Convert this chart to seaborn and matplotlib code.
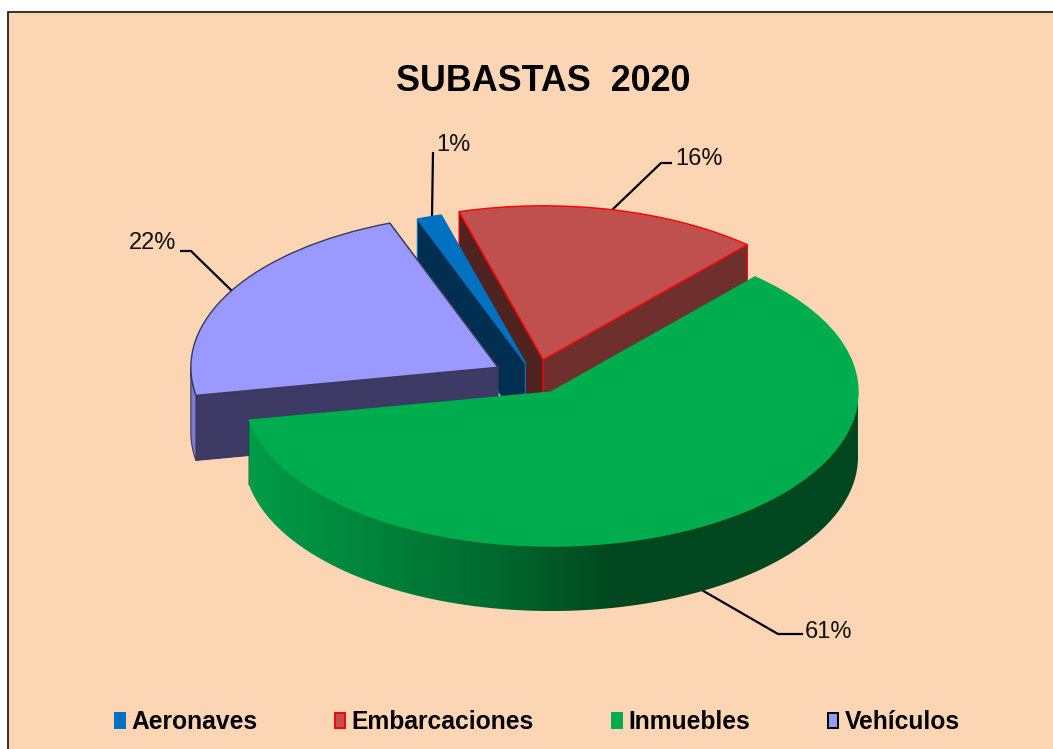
import numpy as np
import matplotlib
matplotlib.use("Agg")
import matplotlib.pyplot as plt
from matplotlib.patches import Patch, PathPatch, Polygon, Rectangle
from matplotlib.path import Path
import seaborn as sns

categories = ["Aeronaves", "Embarcaciones", "Inmuebles", "Vehículos"]
values = [1.3, 16.0, 60.5, 22.2]
pct_labels = ["1%", "16%", "61%", "22%"]
explode = [0.10, 0.12, 0.106, 0.139]

top_colors = ["#0070C0", "#C0504D", "#00AD4E", "#9999FF"]
edge_colors = ["#0070C0", "#FF0000", "#00AD4E", "#3A3A5A"]
cut_colors = ["#002F52", "#6F2F2D", "#00471F", "#3D3A66"]
back_cut_colors = ["#002F52", "#502220", "#00471F", "#3D3A66"]
legend_edges = ["#0070C0", "#FF0000", "#00AD4E", "#000000"]
wall_colors = ["#002F52", "#6F2F2D", None, "#7B7BD0"]
peach = "#FCD5B5"

# pixel geometry of the squashed pie
W, H = 1053, 749
cx, cy = 535, 377.8
rx, ry = 307, 154
depth = 65 / ry
start_angle = 110.6


def px(x, y):
    return (x - cx) / rx, (cy - y) / ry


sns.set_theme(style="white")
plt.rcParams["font.family"] = ["Liberation Sans", "DejaVu Sans"]

fig = plt.figure(figsize=(W / 100, H / 100), dpi=100, facecolor="white")
fig.patches.append(Rectangle((8 / W, -0.01), 1.01, (H - 12) / H + 0.01, transform=fig.transFigure,
                             facecolor=peach, edgecolor="#111111", linewidth=1.2, zorder=-1))
ax = fig.add_axes([0, 0, 1, 1])
ax.patch.set_visible(False)

wedges, _ = ax.pie(values, explode=explode, colors=top_colors, startangle=start_angle,
                   counterclock=False, radius=1)
ax.set_aspect("auto")

green_cmap = sns.blend_palette(["#009C47", "#00843C", "#006A2F", "#00471F", "#00471F", "#00471F"], as_cmap=True)
# painter's order, back to front
draw_order = [1, 0, 3, 2]

for rank, i in enumerate(draw_order):
    w = wedges[i]
    base = rank * 10 + 2
    x0, y0 = w.center
    t1, t2 = w.theta1, w.theta2

    def rim(t):
        return x0 + np.cos(np.radians(t)), y0 + np.sin(np.radians(t))

    # cut faces, back one first
    faces = sorted([t1, t2], key=lambda t: -rim(t)[1])
    for n, t in enumerate(faces):
        xr, yr = rim(t)
        quad = [(x0, y0), (xr, yr), (xr, yr - depth), (x0, y0 - depth)]
        col = back_cut_colors[i] if n == 0 else cut_colors[i]
        ax.add_patch(Polygon(quad, closed=True, facecolor=col, edgecolor=edge_colors[i] if i != 2 else col,
                             linewidth=0.8, zorder=base))

    # outer wall, only the part facing the viewer
    ang = np.linspace(t1, t2, 300)
    ang = ang[np.sin(np.radians(ang)) < 0]
    if len(ang) > 1:
        xs, ys = rim(ang)
        verts = np.vstack([np.column_stack([xs, ys]), np.column_stack([xs, ys - depth])[::-1]])
        wall = Path(np.vstack([verts, verts[:1]]), closed=True)
        if i == 2:
            clip = PathPatch(wall, facecolor="none", edgecolor="none", transform=ax.transData)
            ax.add_patch(clip)
            grad = np.linspace(0, 1, 256).reshape(1, -1)
            im = ax.imshow(grad, cmap=green_cmap, aspect="auto", zorder=base + 1,
                           extent=(xs.min(), xs.max(), (ys - depth).min(), ys.max()))
            im.set_clip_path(clip)
        else:
            ax.add_patch(PathPatch(wall, facecolor=wall_colors[i], edgecolor=edge_colors[i],
                                   linewidth=0.8, zorder=base + 1))

    w.set_edgecolor(edge_colors[i])
    w.set_linewidth(1.0)
    w.set_zorder(base + 2)

ax.set_xlim(px(0, 0)[0], px(W, 0)[0])
ax.set_ylim(px(0, H)[1], px(0, 0)[1])
ax.axis("off")

# leader lines and percentages
leaders = {
    0: ([(433, 152), (432, 217)], (436, 145), "left"),
    1: ([(672, 163), (661, 163), (612, 210)], (675, 159), "left"),
    2: ([(803, 634), (778, 634), (700, 589)], (805, 632), "left"),
    3: ([(180, 251), (191, 251), (232, 291)], (176, 243), "right"),
}
for i, (pts, pos, ha) in leaders.items():
    lx, ly = zip(*[px(*p) for p in pts])
    ax.plot(lx, ly, color="black", lw=1.6, zorder=1, solid_capstyle="butt")
    tx, ty = px(*pos)
    ax.text(tx, ty, pct_labels[i], ha=ha, va="center", fontsize=17, color="#111111", zorder=60)

tx, ty = px(543.5, 82)
ax.text(tx, ty, "SUBASTAS  2020", ha="center", va="center", fontsize=25.8, fontweight="bold", color="black")

handles = [Patch(facecolor=top_colors[i], edgecolor=legend_edges[i], linewidth=1.4, label=categories[i])
           for i in range(len(categories))]
leg = ax.legend(handles=handles, ncol=4, loc="center", bbox_to_anchor=(537 / W, 1 - 722 / H), frameon=False,
                prop={"weight": "bold", "size": 17.7}, labelcolor="black", handlelength=0.42, handleheight=0.6,
                handletextpad=0.25, columnspacing=3.17, borderpad=0)

fig.savefig("out.png", dpi=100, facecolor=fig.get_facecolor())
